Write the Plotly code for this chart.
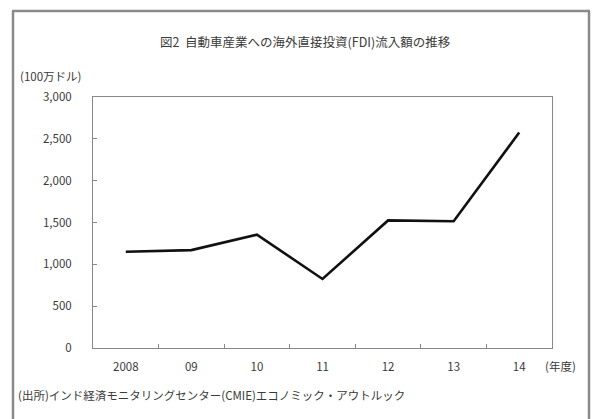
import plotly.graph_objects as go

# FDI inflows into the automobile industry (million USD), by fiscal year
years = ["2008", "09", "10", "11", "12", "13", "14"]
fdi = [1150, 1170, 1355, 825, 1525, 1515, 2575]
y_ticks = [0, 500, 1000, 1500, 2000, 2500, 3000]

FONT = "Noto Sans CJK JP, Noto Sans, sans-serif"
TXT = "#3a3a3a"

# plot-area geometry in pixels
L, R, T, B = 93, 40, 97, 71
PW, PH = 592 - L - R, 419 - T - B


def px(x):
    return (x - L) / PW


def py(y):
    return (419 - B - y) / PH


fig = go.Figure()
fig.add_trace(go.Scatter(
    x=years, y=fdi, mode="lines",
    line=dict(color="#111111", width=2.6),
    showlegend=False, hoverinfo="skip",
))

frame = dict(color="#8a8a8a", width=2.5)
fig.update_layout(
    width=592, height=419,
    margin=dict(l=L, r=R, t=T, b=B),
    paper_bgcolor="white", plot_bgcolor="white",
    font=dict(family=FONT, size=11.5, color=TXT),
    xaxis=dict(
        type="category", tickson="boundaries", range=[-0.5, len(years) - 0.5],
        ticks="inside", ticklen=4, tickcolor="#888",
        showline=True, linecolor="#888", linewidth=1, mirror=True,
        showgrid=False, zeroline=False,
        ticklabelstandoff=8,
        tickfont=dict(size=11.5, color=TXT),
    ),
    yaxis=dict(
        range=[0, 3000], tickvals=y_ticks, tickformat=",d",
        ticks="inside", ticklen=4, tickcolor="#888",
        showline=True, linecolor="#888", linewidth=1, mirror=True,
        showgrid=False, zeroline=False,
        ticklabelstandoff=18,
        tickfont=dict(size=11.5, color=TXT),
    ),
    shapes=[
        # outer box around the whole figure (open at the bottom edge)
        dict(type="line", xref="paper", yref="paper",
             x0=px(13), x1=px(13), y0=py(425), y1=py(11), line=frame),
        dict(type="line", xref="paper", yref="paper",
             x0=px(589), x1=px(589), y0=py(425), y1=py(11), line=frame),
        dict(type="line", xref="paper", yref="paper",
             x0=px(12), x1=px(590), y0=py(11), y1=py(11), line=frame),
    ],
    annotations=[
        dict(text="図2  自動車産業への海外直接投資(FDI)流入額の推移",
             xref="paper", yref="paper", x=px(305), y=py(42),
             xanchor="center", yanchor="middle", showarrow=False,
             font=dict(size=12.5, color=TXT)),
        dict(text="(100万ドル)",
             xref="paper", yref="paper", x=px(18), y=py(76),
             xanchor="left", yanchor="middle", showarrow=False,
             font=dict(size=11.5, color=TXT)),
        dict(text="(年度)",
             xref="paper", yref="paper", x=px(543), y=py(366),
             xanchor="left", yanchor="middle", showarrow=False,
             font=dict(size=11.5, color=TXT)),
        dict(text="(出所)インド経済モニタリングセンター(CMIE)エコノミック・アウトルック",
             xref="paper", yref="paper", x=px(16), y=py(395),
             xanchor="left", yanchor="middle", showarrow=False,
             font=dict(size=11.5, color=TXT)),
    ],
)

fig.write_html("out.html")
